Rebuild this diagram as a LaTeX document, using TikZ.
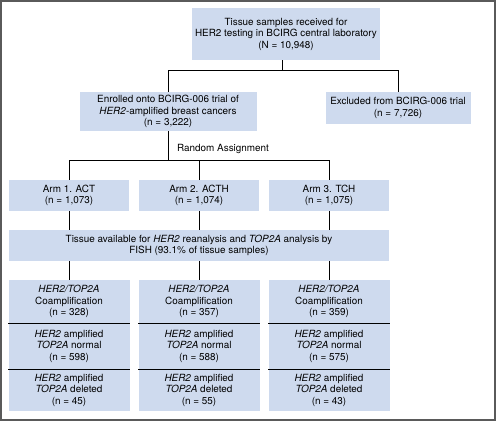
\documentclass[tikz,border=0pt]{standalone}
\usepackage{fontspec}
\setmainfont{TeX Gyre Heros}
\usepackage{tikz}
\definecolor{boxblue}{RGB}{206,218,238}
\definecolor{framegray}{RGB}{90,90,90}
\newcommand{\cnt}[1]{(n = #1)}

\begin{document}
\begin{tikzpicture}[x=1pt,y=-1pt,
  box/.style={fill=boxblue,inner sep=0pt,align=center,font=\fontsize{9.9}{11.5}\selectfont},
  link/.style={draw=black,line width=0.9pt}]
\draw[framegray,line width=1.6pt,fill=white] (0.8,0.8) rectangle (495.2,420.2);

\node[box,minimum width=188pt,minimum height=52pt] (tissue) at (286,34)
  {Tissue samples received for\\HER2 testing in BCIRG central laboratory\\(N = 10,948)};
\node[box,minimum width=177pt,minimum height=39pt] (enrolled) at (168,111.5)
  {Enrolled onto BCIRG-006 trial of\\\textit{HER2}-amplified breast cancers\\\cnt{3,222}};
\node[box,minimum width=145pt,minimum height=32pt] (excluded) at (398,108)
  {Excluded from BCIRG-006 trial\\\cnt{7,726}};
\node[box,minimum width=380pt,minimum height=31pt] (fish) at (199,245.5)
  {Tissue available for \textit{HER2} reanalysis and \textit{TOP2A} analysis by\\FISH (93.1\% of tissue samples)};
\node[font=\fontsize{9.9}{11.5}\selectfont,anchor=west,inner sep=0pt] (random) at (177,149) {Random Assignment};

\coordinate (split) at (282,70);
\draw[link] (split |- tissue.south) -- (split);
\draw[link] (split) -| (enrolled.north);
\draw[link] (split) -| (excluded.north);
\coordinate (rsplit) at (168,160);
\draw[link] (enrolled.south) -- (rsplit);

\foreach \i/\x/\arm/\na/\co/\nn/\de in {1/69/ACT/{1,073}/328/598/45,
                                     2/199/ACTH/{1,074}/357/588/55,
                                     3/329/TCH/{1,075}/359/575/43} {
  \node[box,minimum width=120pt,minimum height=31pt] (arm\i) at (\x,195.5)
    {Arm \i. \arm\\\cnt{\na}};
  \node[box,minimum width=121pt,minimum height=43pt] (co\i) at (\x,301.5)
    {\textit{HER2/TOP2A}\\Coamplification\\\cnt{\co}};
  \node[box,minimum width=121pt,minimum height=46pt] (nm\i) at (\x,346)
    {\textit{HER2} amplified\\\textit{TOP2A} normal\\\cnt{\nn}};
  \node[box,minimum width=121pt,minimum height=42pt] (de\i) at (\x,390)
    {\textit{HER2} amplified\\\textit{TOP2A} deleted\\\cnt{\de}};
  \draw[link] (rsplit) -| (arm\i.north);
  \draw[link] (arm\i.south) -- (arm\i.south |- fish.north);
  \draw[link] (co\i.north |- fish.south) -- (co\i.north);
  \draw[link] (co\i.south west) -- (co\i.south east);
  \draw[link] (nm\i.south west) -- (nm\i.south east);
}

\end{tikzpicture}
\end{document}
